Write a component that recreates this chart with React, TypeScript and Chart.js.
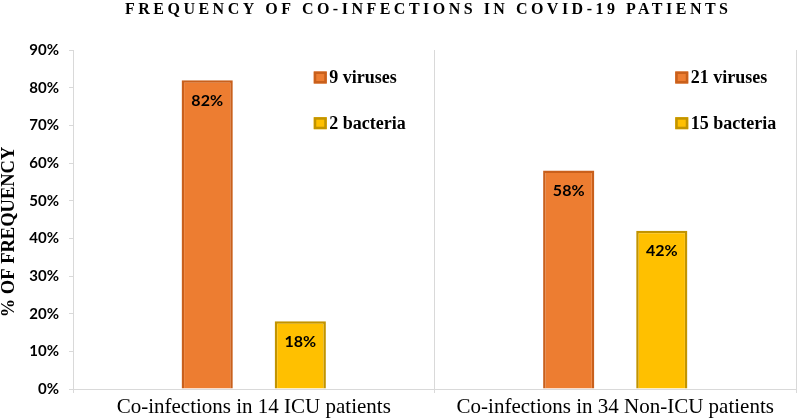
import { useEffect, useRef } from 'react';
import { Chart, registerables } from 'chart.js';

Chart.register(...registerables);

const categories = ['Co-infections in 14 ICU patients', 'Co-infections in 34 Non-ICU patients'];
const virusValues = [82, 58];
const bacteriaValues = [18, 42];
const virusLegend = ['9 viruses', '21 viruses'];
const bacteriaLegend = ['2 bacteria', '15 bacteria'];
const yMax = 90;
const yStep = 10;
const titleText = 'FREQUENCY OF CO-INFECTIONS IN COVID-19 PATIENTS';
const yTitleText = '% OF FREQUENCY';

const ORANGE = '#ED7D31';
const ORANGE_BORDER = '#C9601C';
const YELLOW = '#FFC000';
const YELLOW_BORDER = '#C29400';
const GRID = '#D9D9D9';

const overlayPlugin = {
  id: 'overlay',
  afterDatasetsDraw(chart: any) {
    const ctx: CanvasRenderingContext2D = chart.ctx;
    const area = chart.chartArea;
    // value labels
    chart.data.datasets.forEach((ds: any, di: number) => {
      const meta = chart.getDatasetMeta(di);
      meta.data.forEach((bar: any, i: number) => {
        ctx.save();
        ctx.font = 'bold 16px Lato';
        ctx.fillStyle = '#000';
        ctx.textAlign = 'center';
        ctx.textBaseline = 'middle';
        ctx.fillText(ds.data[i] + '%', bar.x, bar.y + 20.5);
        ctx.restore();
      });
    });
    // per-category legends
    const xs = chart.scales.x;
    categories.forEach((_, i) => {
      const cx = xs.getPixelForValue(i);
      const rows = [
        { label: virusLegend[i], fill: ORANGE, border: ORANGE_BORDER, base: 33.3 },
        { label: bacteriaLegend[i], fill: YELLOW, border: YELLOW_BORDER, base: 79 },
      ];
      rows.forEach((r) => {
        const bx = cx + 60;
        const by = area.top + r.base - 11.8;
        ctx.save();
        ctx.fillStyle = r.fill;
        ctx.fillRect(bx, by, 13, 12);
        ctx.strokeStyle = r.border;
        ctx.lineWidth = 2.5;
        ctx.strokeRect(bx + 1.25, by + 1.25, 10.5, 9.5);
        ctx.font = 'bold 18px "Liberation Serif"';
        ctx.fillStyle = '#000';
        ctx.textAlign = 'left';
        ctx.textBaseline = 'alphabetic';
        ctx.fillText(r.label, bx + 15.5, area.top + r.base);
        ctx.restore();
      });
    });
  },
  afterDraw(chart: any) {
    const ctx: any = chart.ctx;
    const area = chart.chartArea;
    // title with letter spacing
    ctx.save();
    ctx.font = 'bold 16px "Liberation Serif"';
    ctx.fillStyle = '#000';
    ctx.textBaseline = 'alphabetic';
    ctx.textAlign = 'left';
    ctx.letterSpacing = '0px';
    const w0 = ctx.measureText(titleText).width;
    const targetW = 603;
    const sp = (targetW - w0) / (titleText.length - 1);
    ctx.letterSpacing = sp + 'px';
    ctx.fillText(titleText, 125, 13.5);
    ctx.restore();
    // y title
    ctx.save();
    ctx.font = 'bold 18.5px "Liberation Serif"';
    ctx.fillStyle = '#000';
    ctx.textAlign = 'center';
    ctx.textBaseline = 'middle';
    ctx.translate(9, (area.top + area.bottom) / 2 + 12.5);
    ctx.rotate(-Math.PI / 2);
    ctx.fillText(yTitleText, 0, 0);
    ctx.restore();
  },
};

export default function App() {
  const ref = useRef<HTMLCanvasElement | null>(null);
  useEffect(() => {
    if (!ref.current) return;
    const chart = new Chart(ref.current, {
      type: 'bar',
      data: {
        labels: categories,
        datasets: [
          {
            label: 'viruses',
            data: virusValues,
            backgroundColor: ORANGE,
            borderColor: ORANGE_BORDER,
            borderWidth: 2.5,
            categoryPercentage: 0.515,
            barPercentage: 0.55,
          },
          {
            label: 'bacteria',
            data: bacteriaValues,
            backgroundColor: YELLOW,
            borderColor: YELLOW_BORDER,
            borderWidth: 2.5,
            categoryPercentage: 0.515,
            barPercentage: 0.55,
          },
        ],
      },
      options: {
        responsive: true,
        maintainAspectRatio: false,
        animation: false,
        events: [],
        layout: { padding: { top: 50, right: 1, left: 0, bottom: 0 } },
        plugins: {
          legend: { display: false },
          tooltip: { enabled: false },
          title: { display: false },
        },
        scales: {
          x: {
            grid: { offset: true, color: GRID, tickLength: 4, lineWidth: 1 },
            border: { display: true, color: GRID },
            ticks: {
              color: '#000',
              font: { family: '"Liberation Serif"', size: 21 },
              padding: 2,
              maxRotation: 0,
              autoSkip: false,
            },
            afterFit(scale: any) {
              scale.height = 30;
            },
          },
          y: {
            min: 0,
            max: yMax,
            grid: { drawOnChartArea: false, color: GRID, tickLength: 4 },
            border: { display: true, color: GRID },
            ticks: {
              stepSize: yStep,
              color: '#000',
              font: { family: 'Lato', size: 15, weight: 'bold' },
              padding: 10,
              callback: (v: any) => v + '%',
            },
            afterFit(scale: any) {
              scale.width = 73;
            },
          },
        },
      },
      plugins: [overlayPlugin],
    });
    return () => chart.destroy();
  }, []);
  return (
    <div style={{ position: 'fixed', left: 0, top: 0, width: 797, height: 419, background: '#fff' }}>
      <canvas ref={ref} />
    </div>
  );
}
